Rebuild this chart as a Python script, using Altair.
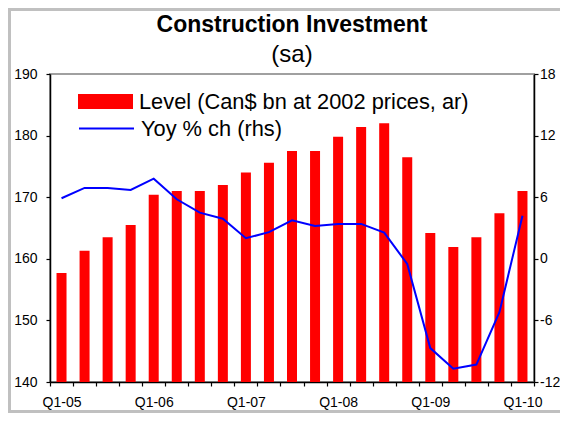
import altair as alt
import pandas as pd

quarters = ["Q1-05", "Q2-05", "Q3-05", "Q4-05",
            "Q1-06", "Q2-06", "Q3-06", "Q4-06",
            "Q1-07", "Q2-07", "Q3-07", "Q4-07",
            "Q1-08", "Q2-08", "Q3-08", "Q4-08",
            "Q1-09", "Q2-09", "Q3-09", "Q4-09",
            "Q1-10"]
level = [157.7, 161.3, 163.5, 165.5, 170.4, 171.0, 171.0, 172.0, 174.0, 175.6,
         177.5, 177.5, 179.8, 181.4, 182.0, 176.5, 164.2, 161.9, 163.5, 167.4, 171.0]
yoy = [5.9, 6.9, 6.9, 6.7, 7.8, 5.8, 4.5, 3.9, 2.0, 2.6,
       3.75, 3.2, 3.4, 3.4, 2.55, -0.5, -8.7, -10.7, -10.3, -5.2, 4.2]
level_name = "Level (Can$ bn at 2002 prices, ar)"
yoy_name = "Yoy % ch (rhs)"
left_ticks = [140, 150, 160, 170, 180, 190]
right_ticks = [-12, -6, 0, 6, 12, 18]

FONT = "Liberation Sans"

df = pd.DataFrame({"q": quarters, "level": level, "yoy": yoy,
                   "s1": level_name, "s2": yoy_name})

xenc = alt.X("q:N", sort=quarters, title=None,
             scale=alt.Scale(paddingInner=0, paddingOuter=0),
             axis=alt.Axis(labelExpr="indexof(datum.label,'Q1')==0 ? datum.label : ''",
                           labelAngle=0, labelOverlap=False, tickBand="extent",
                           tickSize=4, labelPadding=9, labelFontSize=14,
                           labelFont=FONT, labelColor="black",
                           domainColor="black", domainWidth=1.5,
                           tickColor="black", tickWidth=1.2))

bars = alt.Chart(df).mark_bar(size=10, clip=True).encode(
    x=xenc,
    y=alt.Y("level:Q", title=None,
            scale=alt.Scale(domain=[140, 190], nice=False, zero=False),
            axis=alt.Axis(values=left_ticks, orient="left", grid=False,
                          tickSize=4, labelPadding=9, labelFontSize=14,
                          labelFont=FONT, labelColor="black",
                          domainColor="black", domainWidth=1.5,
                          tickColor="black", tickWidth=1.2)),
    color=alt.Color("s1:N", scale=alt.Scale(domain=[level_name], range=["#ff0000"]),
                    legend=alt.Legend(orient="none", legendX=28, legendY=0, title=None,
                                      symbolType="M-1,-0.273H1V0.273H-1Z",
                                      symbolSize=3025, symbolStrokeWidth=0,
                                      labelFontSize=21.8, labelFont=FONT, labelLimit=0,
                                      labelColor="black", labelOffset=6, padding=0)),
)

line = alt.Chart(df).mark_line(strokeWidth=2).encode(
    x=alt.X("q:N", sort=quarters),
    y=alt.Y("yoy:Q", title=None,
            scale=alt.Scale(domain=[-12, 18], nice=False, zero=False),
            axis=alt.Axis(values=right_ticks, orient="right", grid=False,
                          labelExpr="datum.value < 0 ? '-' + (-datum.value) : '' + datum.value",
                          tickSize=4, labelPadding=1.5, labelFontSize=14,
                          labelFont=FONT, labelColor="black",
                          domainColor="black", domainWidth=1.5,
                          tickColor="black", tickWidth=1.2)),
    stroke=alt.Stroke("s2:N", scale=alt.Scale(domain=[yoy_name], range=["#0000ff"]),
                      legend=alt.Legend(orient="none", legendX=28, legendY=26, title=None,
                                        symbolType="stroke", symbolSize=3025,
                                        symbolStrokeWidth=2,
                                        labelFontSize=21.8, labelFont=FONT, labelLimit=0,
                                        labelColor="black", labelOffset=6, padding=0)),
)

frame = alt.Chart(alt.Data(values=[{"f": 1}])).mark_rect(
    fill="transparent", stroke="#c0c0c0", strokeWidth=3
).encode(
    x=alt.value(-40.5), x2=alt.value(700),
    y=alt.value(-64.5), y2=alt.value(337.5)
)

chart = alt.layer(bars, line, frame).resolve_scale(
    y="independent", color="independent", stroke="independent"
).properties(
    width=484, height=308,
    padding={"left": 42, "top": 66, "right": 26, "bottom": 31},
    autosize=alt.AutoSizeParams(type="none"),
    title=alt.TitleParams(text="Construction Investment", subtitle="(sa)",
                          fontSize=23, fontWeight="bold", font=FONT, color="black",
                          subtitleFontSize=24, subtitleFont=FONT, subtitleColor="black",
                          anchor="middle", frame="group", offset=7, subtitlePadding=6,
                          dy=66),
).configure_view(stroke="#a0a0a0", strokeWidth=2)

chart.save("out.html", embed_options={"renderer": "svg", "actions": False})
